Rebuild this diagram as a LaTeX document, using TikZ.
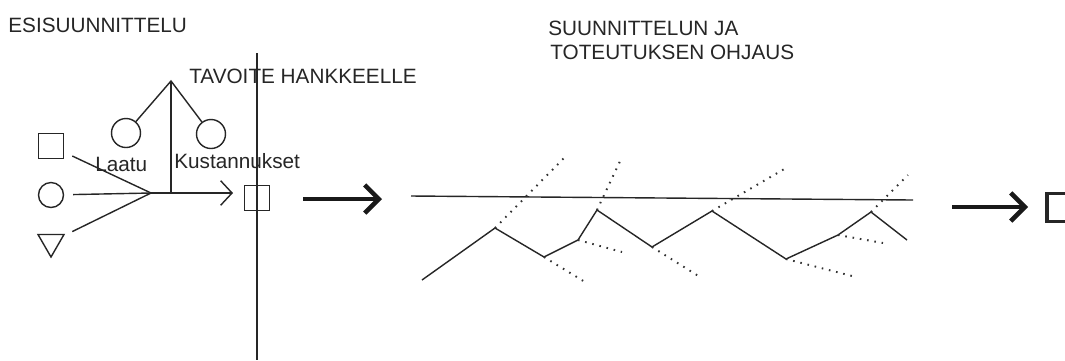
\documentclass[tikz,border=0pt]{standalone}
\usepackage{fontspec}
\setmainfont{Liberation Sans}
\usetikzlibrary{backgrounds,arrows.meta,shapes.geometric}

\begin{document}
\begin{tikzpicture}[x=0.02cm, y=-0.02cm, background rectangle/.style={fill=white}, inner frame sep=0pt, show background rectangle]

  \tikzstyle{lbl}=[font=\fontsize{11.8}{14}\selectfont, inner sep=0pt, anchor=base west, text=black!85]
  \tikzstyle{ln}=[line width=0.8pt, draw=black!85]
  \tikzstyle{dots}=[line width=1.1pt, draw=black!80, dash pattern=on 0.9pt off 3.3pt]
  \tikzstyle{box}=[draw=black!85, line width=0.8pt, minimum size=0.5cm, inner sep=0pt]
  \tikzstyle{ball}=[draw=black!85, line width=0.8pt, circle, minimum size=0.58cm, inner sep=0pt]
  \tikzstyle{tri}=[draw=black!85, line width=0.8pt, regular polygon, regular polygon sides=3, shape border rotate=180, minimum size=0.6cm, inner sep=0pt]
  \tikzstyle{bigarrow}=[line width=2.6pt, draw=black!90, -{Straight Barb[length=8pt, width=16pt]}]

  \useasboundingbox (0,0) rectangle (1065,360);

  % headings
  \node[lbl] (esi) at (8,32) {ESISUUNNITTELU};
  \node[lbl] (tavoite) at (189,83) {TAVOITE HANKKEELLE};
  \node[lbl] (ohjaus1) at (548,35) {SUUNNITTELUN JA};
  \node[lbl] (ohjaus2) at (550,59) {TOTEUTUKSEN OHJAUS};

  % goal tree
  \coordinate (apex) at (171,81);
  \coordinate (fork) at (151,193);
  \coordinate (join) at (171,193);
  \coordinate (tip) at (233,193);
  \node[ball] (laatu) at (126,133) {};
  \node[ball] (kust) at (211,134) {};
  \draw[ln] (laatu) -- (apex) -- (kust);
  \draw[ln] (apex) -- (join);
  \node[lbl] (laatulbl) at (95,171) {Laatu};
  \node[lbl] (kustlbl) at (174,168) {Kustannukset};

  % inputs on the left
  \node[box] (inbox) at (51,146) {};
  \node[ball, minimum size=0.5cm] (incirc) at (51,195) {};
  \node[tri] (intri) at (51,242) {};
  \foreach \n in {inbox,incirc,intri}
    \draw[ln, shorten <=0.18cm] (\n) -- (fork);
  \draw[ln, -{Straight Barb[length=6.5pt, width=14pt]}] (fork) -- (tip);

  % dividing line and the target
  \coordinate (vtop) at (257,53);
  \coordinate (vbot) at (257,360);
  \node[box] (goal) at (257,198) {};
  \draw[ln] (vtop) -- (vbot);

  % big arrows
  \coordinate (a1) at (303,199);
  \coordinate (a2) at (382,199);
  \coordinate (b1) at (952,207);
  \coordinate (b2) at (1028,207);
  \draw[bigarrow] (a1) -- (a2);
  \draw[bigarrow] (b1) -- (b2);
  \node[box, line width=1.8pt, minimum size=0.56cm] (result) at (1061,207.5) {};

  % control: target line and zigzag course
  \coordinate (h0) at (411,196);
  \coordinate (h1) at (913,200);
  \draw[ln] (h0) -- (h1);

  \foreach \x/\y [count=\i from 0] in {422/280, 495/228, 544/257, 578/240, 597/210, 652/247, 712/211, 786/259, 838/235, 871/212, 907/240}
    \coordinate (z\i) at (\x,\y);
  \draw[ln] (z0) \foreach \i in {1,...,10} { -- (z\i) };

  % corrections
  \foreach \i/\x/\y in {1/566/156, 4/622/157, 6/786/168, 9/908/175, 2/585/282, 3/622/252, 5/700/277, 7/856/277, 8/883/243}
    {
      \coordinate (d\i) at (\x,\y);
      \draw[dots] (z\i) -- (d\i);
    }
\end{tikzpicture}
\end{document}
